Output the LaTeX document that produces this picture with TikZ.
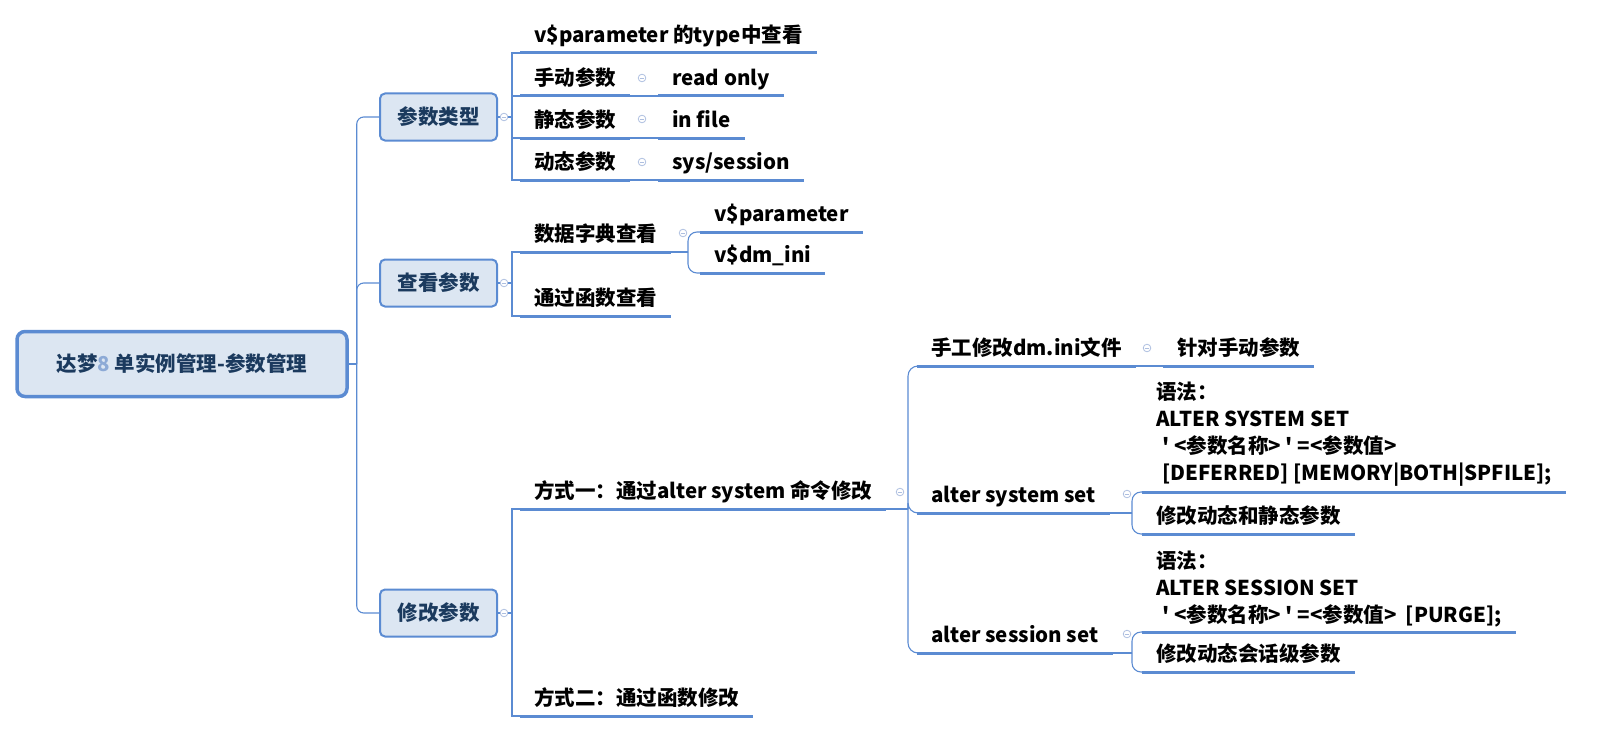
\documentclass[tikz,border=0pt]{standalone}
\usepackage{xcolor}
\usepackage{fontspec}
\usepackage{tikz}
\usetikzlibrary{positioning}
\newfontfamily\mapfont{Noto Sans CJK SC}
\definecolor{MMBlue}{HTML}{5B8BD2}
\definecolor{MMFill}{HTML}{DCE6F2}
\definecolor{MMNavy}{HTML}{1B3A5E}
\definecolor{MMEight}{HTML}{8DAAD6}
\definecolor{MMFold}{HTML}{AEBFE0}

\begin{document}
\begin{tikzpicture}[
  x=1pt,y=-1pt,
  font=\mapfont\bfseries\fontsize{20.5}{27}\selectfont,
  box/.style={draw=MMBlue,line width=2pt,rounded corners=5pt,fill=MMFill,
    text=MMNavy,minimum width=117pt,minimum height=47pt},
  topic/.style={anchor=south west,inner xsep=14pt,inner ysep=5pt,align=left},
  leaf/.style={topic,text height=16pt,text depth=5pt},
  uline/.style={draw=MMBlue,line width=3pt},
  conn/.style={draw=MMBlue,line width=1.1pt},
  fold/.style={draw=MMFold,line width=0.8pt}
]
  \useasboundingbox (0,0) rectangle (1597,733);

  \node[box,line width=3.5pt,rounded corners=8pt,minimum width=330pt,minimum height=65pt]
    (root) at (182,364) {达梦{\color{MMEight}8} 单实例管理-参数管理};
  \node[box] (p1) at (438.5,117) {参数类型};
  \node[box] (p2) at (438.5,283) {查看参数};
  \node[box] (p3) at (438.5,613) {修改参数};

  % 参数类型
  \node[leaf] (t1) at (520,53) {v\$parameter 的type中查看};
  \node[leaf] (t2) at (520,96) {手动参数};
  \node[leaf] (t3) at (520,138) {静态参数};
  \node[leaf] (t4) at (520,180) {动态参数};
  \node[leaf] (r2) at (658,96) {read only};
  \node[leaf] (r3) at (658,138) {in file};
  \node[leaf] (r4) at (658,180) {sys/session};

  % 查看参数
  \node[leaf] (t5) at (520,252) {数据字典查看};
  \node[leaf] (t6) at (520,316) {通过函数查看};
  \node[leaf] (v1) at (700,232) {v\$parameter};
  \node[leaf] (v2) at (700,273) {v\$dm\_ini};

  % 修改参数
  \node[leaf] (w1) at (520,509) {方式一：通过alter system 命令修改};
  \node[leaf] (w2) at (520,716) {方式二：通过函数修改};
  \node[leaf] (h1) at (917,366) {手工修改dm.ini文件};
  \node[leaf] (g1) at (1163,366) {针对手动参数};
  \node[leaf] (a1) at (917,513) {alter system set};
  \node[leaf] (a2) at (917,653) {alter session set};
  \node[topic] (s1) at (1142,492) {语法：\\ALTER SYSTEM SET\\\hspace*{6pt}' <参数名称> ' =<参数值>\\\hspace*{6pt}[DEFERRED] [MEMORY|BOTH|SPFILE];};
  \node[leaf] (m1) at (1142,534) {修改动态和静态参数};
  \node[topic] (s2) at (1142,632) {语法：\\ALTER SESSION SET\\\hspace*{6pt}' <参数名称> ' =<参数值>\ \ [PURGE];};
  \node[leaf] (m2) at (1142,672) {修改动态会话级参数};

  \foreach \n in {t1,t2,t3,t4,r2,r3,r4,t5,t6,v1,v2,w1,w2,h1,g1,a1,a2,s1,m1,s2,m2}
    \draw[uline] (\n.south west) -- (\n.south east);

  % trunk
  \coordinate (j0) at ([xshift=8pt]root.east);
  \draw[conn] (root.east) -- (j0);
  \foreach \p in {p1,p2,p3}
    \draw[conn,rounded corners=7pt] (j0) |- (\p.west);

  \coordinate (j1) at ([xshift=14pt]p1.east);
  \coordinate (j2) at ([xshift=14pt]p2.east);
  \coordinate (j3) at ([xshift=14pt]p3.east);
  \draw[conn] (p1.east) -- (j1);\draw[conn] (p2.east) -- (j2);\draw[conn] (p3.east) -- (j3);
  \foreach \c in {t1,t2,t3,t4} \draw[conn] (j1) |- (\c.south west);
  \foreach \c in {t5,t6} \draw[conn] (j2) |- (\c.south west);
  \foreach \c in {w1,w2} \draw[conn] (j3) |- (\c.south west);

  \draw[conn] (t2.south east) -- (r2.south west);
  \draw[conn] (t3.south east) -- (r3.south west);
  \draw[conn] (t4.south east) -- (r4.south west);
  \draw[conn] (h1.south east) -- (g1.south west);

  % curved brackets
  \coordinate (j4) at ([xshift=-12pt]v1.south west |- t5.south east);
  \draw[conn] (t5.south east) -- (j4);
  \foreach \c in {v1,v2} \draw[conn,rounded corners=9pt] (j4) |- (\c.south west);
  \coordinate (j5) at ([xshift=-9pt]h1.south west |- w1.south east);
  \draw[conn] (w1.south east) -- (j5);
  \foreach \c in {h1,a1,a2} \draw[conn,rounded corners=10pt] (j5) |- (\c.south west);
  \coordinate (j6) at ([xshift=-10pt]s1.south west |- a1.south east);
  \draw[conn] (a1.south east) -- (j6);
  \foreach \c in {s1,m1} \draw[conn,rounded corners=9pt] (j6) |- (\c.south west);
  \coordinate (j7) at ([xshift=-10pt]s2.south west |- a2.south east);
  \draw[conn] (a2.south east) -- (j7);
  \foreach \c in {s2,m2} \draw[conn,rounded corners=9pt] (j7) |- (\c.south west);

  % fold marks
  \foreach \x/\y in {504/117,642/78,642/119,642/162,504/283,683/233,504/613,
                     900/492,1147/348,1127/494,1127/634} {
    \draw[fold,fill=white] (\x,\y) circle (3.8pt);
    \draw[fold] (\x-2.3,\y) -- (\x+2.3,\y);
  }
\end{tikzpicture}
\end{document}
